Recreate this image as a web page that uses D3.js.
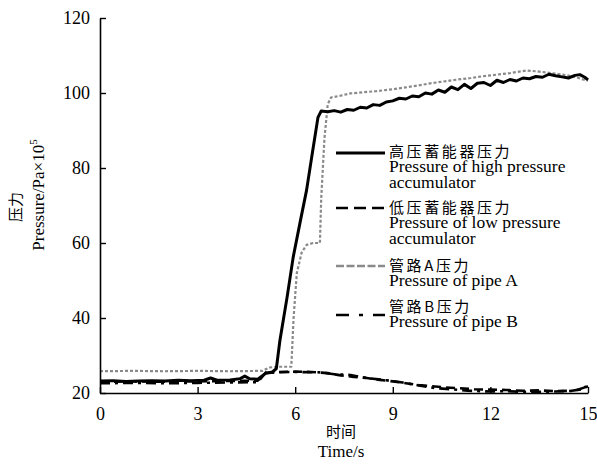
<!DOCTYPE html>
<html>
<head>
<meta charset="utf-8">
<script src="https://cdn.jsdelivr.net/npm/d3@7"></script>
<style>
  html, body { margin: 0; padding: 0; background: #fff; }
  text { font-family: "Liberation Serif", "Times New Roman", "Noto Sans CJK SC", serif; fill: #000; }
  .cjk { font-family: "Noto Sans CJK SC", "Liberation Serif", serif; }
</style>
</head>
<body>
<svg id="chart" width="597" height="466"></svg>
<script>
// Time axis (s) and pressure axis (Pa×10^5) ticks
const xTicks = [0, 3, 6, 9, 12, 15];
const yTicks = [20, 40, 60, 80, 100, 120];

// High pressure accumulator
const highT = [0, 0.4, 0.8, 1.2, 1.6, 2.0, 2.4, 2.8, 3.2, 3.4, 3.6, 4.0, 4.3, 4.45, 4.6, 4.85, 5.1, 5.3, 5.42,
  5.53, 5.75, 5.94, 6.15, 6.35, 6.5, 6.6, 6.7, 6.8, 7.0, 7.2, 7.4, 7.6, 7.8, 8.0, 8.2, 8.4, 8.6, 8.8, 9.0,
  9.2, 9.4, 9.6, 9.8, 10.0, 10.2, 10.4, 10.6, 10.8, 11.0, 11.2, 11.4, 11.6, 11.8, 12.0, 12.2, 12.4, 12.6,
  12.8, 13.0, 13.2, 13.4, 13.6, 13.8, 14.0, 14.2, 14.4, 14.6, 14.75, 14.9, 15.0];
const highV = [23.2, 23.3, 23.1, 23.2, 23.3, 23.2, 23.4, 23.3, 23.4, 24.0, 23.4, 23.5, 23.8, 24.5, 23.8, 23.7, 25.3, 25.6, 26.5,
  34.0, 45.5, 56.3, 65.5, 74.1, 82.5, 88.0, 93.5, 95.2, 95.0, 95.3, 94.9, 95.6, 95.4, 96.2, 96.0, 96.9, 96.7, 97.6, 97.9,
  98.6, 98.4, 99.2, 99.0, 100.0, 99.7, 100.8, 100.2, 101.6, 100.9, 102.3, 101.2, 102.6, 102.8, 102.0, 103.4, 102.8, 103.6,
  103.2, 104.0, 103.8, 104.4, 104.2, 105.0, 104.6, 104.3, 104.0, 104.7, 104.9, 104.2, 103.5];

// Low pressure accumulator
const lowT = [0, 1, 2, 3, 4, 4.85, 5.1, 5.5, 6.0, 6.5, 7.0, 7.4, 7.8, 8.2, 8.6, 9.0, 9.4, 9.8, 10.2, 10.6,
  11.0, 11.5, 12.0, 12.5, 13.0, 13.5, 14.0, 14.5, 14.8, 15.0];
const lowV = [23.0, 23.1, 23.0, 23.1, 23.2, 23.3, 25.3, 25.6, 25.7, 25.6, 25.3, 24.7, 24.3, 24.0, 23.5, 23.1, 22.6, 22.1, 21.8, 21.5,
  21.3, 21.0, 20.9, 20.8, 20.6, 20.7, 20.5, 20.6, 21.0, 21.8];

// Pipe A
const pipeAT = [0, 1, 2, 3, 4, 5.0, 5.2, 5.5, 5.88, 5.95, 6.05, 6.2, 6.35, 6.55, 6.76, 6.8, 6.9, 7.0, 7.1, 7.4, 7.7,
  8.1, 8.5, 9.0, 9.4, 9.7, 10.1, 10.5, 11.0, 11.4, 11.8, 12.2, 12.6, 13.1, 13.4, 13.8, 14.3, 14.6, 14.85, 15.0];
const pipeAV = [25.8, 25.9, 25.8, 25.9, 25.8, 25.9, 26.8, 27.0, 27.0, 40.0, 52.0, 57.5, 59.5, 60.0, 60.0, 72.0, 88.0, 97.0, 98.8, 99.3, 99.9,
  100.2, 100.5, 101.0, 101.5, 101.9, 102.5, 103.0, 103.6, 104.0, 104.5, 104.9, 105.3, 106.0, 105.8, 105.4, 104.8, 104.3, 103.6, 103.3];

// Pipe B
const pipeBT = [0, 1, 2, 3, 4, 4.85, 5.1, 6.0, 6.8, 7.2, 7.7, 8.2, 8.8, 9.3, 9.8, 10.3, 10.8, 11.3, 12.0, 12.5,
  13.0, 13.5, 14.0, 14.6, 14.9, 15.0];
const pipeBV = [22.6, 22.7, 22.6, 22.7, 22.8, 22.9, 25.5, 25.6, 25.5, 25.0, 24.8, 24.0, 23.4, 22.8, 22.0, 21.3, 21.0, 20.6, 20.4, 20.5,
  20.3, 20.3, 20.4, 20.6, 21.5, 22.2];

const legendCn = ["高压蓄能器压力", "低压蓄能器压力", "管路A压力", "管路B压力"];
const legendEn = [["Pressure of high pressure", "accumulator"], ["Pressure of low pressure", "accumulator"], ["Pressure of pipe A"], ["Pressure of pipe B"]];

const svg = d3.select("#chart");
const plotL = 100, plotR = 588, plotT = 18, plotB = 393;

const x = d3.scaleLinear().domain([0, 15]).range([plotL, plotR]);
const y = d3.scaleLinear().domain([20, 120]).range([plotB, plotT]);

const styles = [
  { color: "#000", width: 3, dash: null },
  { color: "#000", width: 2.6, dash: "9,5" },
  { color: "#8a8a8a", width: 2.2, dash: "3,2" },
  { color: "#000", width: 2.6, dash: "10,5,3,5" }
];

const series = [
  { t: highT, v: highV },
  { t: lowT, v: lowV },
  { t: pipeAT, v: pipeAV },
  { t: pipeBT, v: pipeBV }
];

const line = d3.line().x(d => x(d[0])).y(d => y(d[1]));

// draw pipe A first so the black traces sit on top
[2, 3, 1, 0].forEach(i => {
  const s = series[i];
  const pts = s.t.map((t, k) => [t, s.v[k]]);
  svg.append("path")
    .attr("d", line(pts))
    .attr("fill", "none")
    .attr("stroke", styles[i].color)
    .attr("stroke-width", styles[i].width)
    .attr("stroke-linejoin", "round")
    .attr("stroke-dasharray", styles[i].dash);
});

// axes with inward ticks
const xAxis = svg.append("g").attr("transform", `translate(0,${plotB})`)
  .call(d3.axisBottom(x).tickValues(xTicks).tickSizeInner(-6).tickSizeOuter(0).tickPadding(14));
const yAxis = svg.append("g").attr("transform", `translate(${plotL},0)`)
  .call(d3.axisLeft(y).tickValues(yTicks).tickSizeInner(-6).tickSizeOuter(0).tickPadding(10));
[xAxis, yAxis].forEach(g => {
  g.select(".domain").attr("stroke", "#000").attr("stroke-width", 1.6);
  g.selectAll(".tick line").attr("stroke", "#000").attr("stroke-width", 1.4);
  g.selectAll(".tick text").attr("font-size", 18).attr("font-family", "Liberation Serif, serif");
});

// axis titles
svg.append("text").attr("class", "cjk").attr("x", 341).attr("y", 437)
  .attr("text-anchor", "middle").attr("font-size", 15).text("时间");
svg.append("text").attr("x", 341).attr("y", 457)
  .attr("text-anchor", "middle").attr("font-size", 17).text("Time/s");

svg.append("text").attr("class", "cjk")
  .attr("transform", "translate(21,207) rotate(-90)")
  .attr("text-anchor", "middle").attr("font-size", 15).text("压力");
const yt = svg.append("text")
  .attr("transform", "translate(44,195) rotate(-90)")
  .attr("text-anchor", "middle").attr("font-size", 17);
yt.append("tspan").text("Pressure/Pa×10");
yt.append("tspan").attr("font-size", 11).attr("dy", -7).text("5");

// legend
const legY = [153, 208, 266, 315];
const cnY = [157, 213, 271, 312];
legendCn.forEach((label, i) => {
  svg.append("line")
    .attr("x1", 336).attr("x2", 385).attr("y1", legY[i]).attr("y2", legY[i])
    .attr("stroke", styles[i].color)
    .attr("stroke-width", i === 0 ? 3 : 2.6)
    .attr("stroke-dasharray", [null, "12,6", "8,2.5", "13,10,4,10"][i]);
  svg.append("text").attr("class", "cjk").attr("x", 389).attr("y", cnY[i])
    .attr("font-size", 15).attr("letter-spacing", 2.6).text(label);
  legendEn[i].forEach((ln, j) => {
    svg.append("text").attr("x", 389).attr("y", cnY[i] + 15 + j * 16)
      .attr("font-size", 17.5).text(ln);
  });
});
</script>
</body>
</html>
